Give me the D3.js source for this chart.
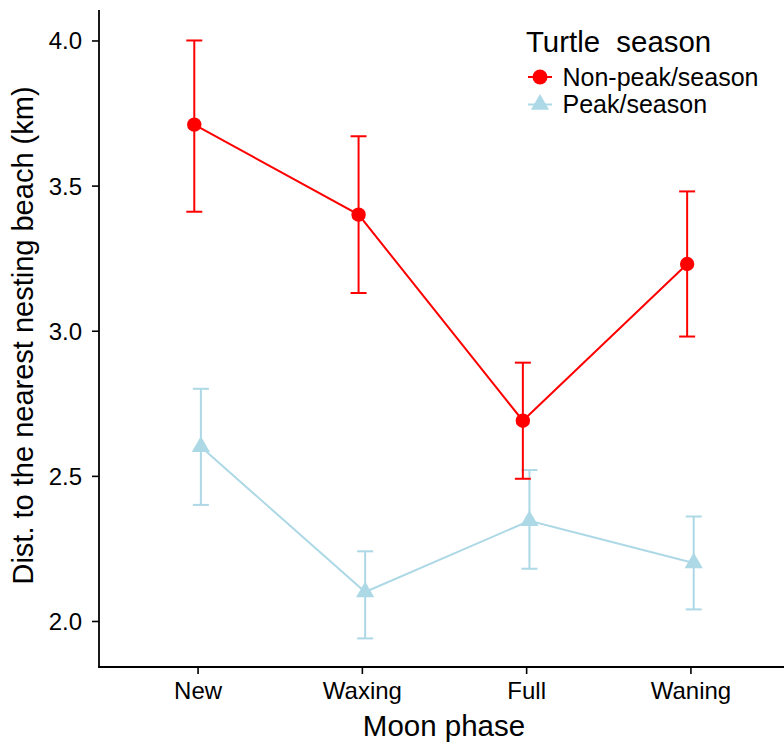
<!DOCTYPE html>
<html>
<head>
<meta charset="utf-8">
<script src="https://cdn.jsdelivr.net/npm/d3@7"></script>
<style>
  html, body { margin: 0; padding: 0; background: #fff; }
  svg { display: block; font-family: "Liberation Sans", Arial, Helvetica, sans-serif; }
</style>
</head>
<body>
<svg id="chart" width="784" height="745"></svg>
<script>
// ---- Data ----
const phases = ["New", "Waxing", "Full", "Waning"];
const nonPeakMean = [3.71, 3.40, 2.69, 3.23];
const nonPeakLow  = [3.41, 3.13, 2.49, 2.98];
const nonPeakHigh = [4.00, 3.67, 2.89, 3.48];
const peakMean = [2.60, 2.10, 2.345, 2.20];
const peakLow  = [2.40, 1.94, 2.18, 2.04];
const peakHigh = [2.80, 2.24, 2.52, 2.36];
const yTicks = [2.0, 2.5, 3.0, 3.5, 4.0];
const seriesNames = ["Non-peak/season", "Peak/season"];
const legendTitle = "Turtle  season";
const xTitle = "Moon phase";
const yTitle = "Dist. to the nearest nesting beach (km)";

// ---- Layout ----
const svg = d3.select("#chart");
const mLeft = 99, mRight = 789, mTop = 10, mBottom = 667;
const RED = "#FF0000", BLUE = "#ADD8E6";

const x = d3.scalePoint().domain(phases).range([mLeft, mRight]).padding(0.6);
const y = d3.scaleLinear().domain([1.8415, 4.105]).range([mBottom, mTop]);
const dodge = x.step() * 0.02;

const series = [
  { name: seriesNames[1], color: BLUE, shape: "tri", off: dodge,
    data: phases.map((p, i) => ({ p, m: peakMean[i], lo: peakLow[i], hi: peakHigh[i] })) },
  { name: seriesNames[0], color: RED, shape: "circle", off: -dodge,
    data: phases.map((p, i) => ({ p, m: nonPeakMean[i], lo: nonPeakLow[i], hi: nonPeakHigh[i] })) }
];

const triR = 10.5;
function triPath(r) {
  const xc = r * Math.sqrt(3) / 2;
  return `M0,${-r}L${xc},${r / 2}L${-xc},${r / 2}Z`;
}

// ---- Axes ----
const yAxis = d3.axisLeft(y).tickValues(yTicks).tickFormat(d3.format(".1f")).tickSize(7).tickPadding(10);
const gy = svg.append("g").attr("transform", `translate(${mLeft},0)`).call(yAxis);
gy.select(".domain").remove();
gy.selectAll(".tick line").attr("stroke", "#000").attr("stroke-width", 1.6);
gy.selectAll(".tick text").attr("font-size", 24).attr("fill", "#000").attr("dy", "0.35em")
  .attr("font-family", "Liberation Sans, Arial, sans-serif");

const xAxis = d3.axisBottom(x).tickSize(7).tickPadding(8);
const gx = svg.append("g").attr("transform", `translate(0,${mBottom})`).call(xAxis);
gx.select(".domain").remove();
gx.selectAll(".tick line").attr("stroke", "#000").attr("stroke-width", 1.6);
gx.selectAll(".tick text").attr("font-size", 24).attr("fill", "#000").attr("dy", "0.69em")
  .attr("font-family", "Liberation Sans, Arial, sans-serif");

svg.append("line").attr("x1", mLeft).attr("x2", mLeft).attr("y1", mTop).attr("y2", mBottom + 0.8)
  .attr("stroke", "#000").attr("stroke-width", 1.8);
svg.append("line").attr("x1", mLeft - 0.8).attr("x2", 784).attr("y1", mBottom).attr("y2", mBottom)
  .attr("stroke", "#000").attr("stroke-width", 1.8);

// axis titles
svg.append("text").attr("x", (mLeft + mRight) / 2).attr("y", 736).attr("text-anchor", "middle")
  .attr("font-size", 29.5).attr("fill", "#000").text(xTitle);
svg.append("text").attr("transform", `translate(33,${(mTop + mBottom) / 2 - 3}) rotate(-90)`)
  .attr("text-anchor", "middle").attr("font-size", 29).attr("fill", "#000").text(yTitle);

// ---- Marks ----
const capW = 8;
const plot = svg.append("g");
// error bars
series.forEach(s => {
  const g = plot.append("g");
  s.data.forEach(d => {
    const cx = x(d.p) + s.off;
    g.append("line").attr("x1", cx).attr("x2", cx).attr("y1", y(d.lo)).attr("y2", y(d.hi))
      .attr("stroke", s.color).attr("stroke-width", 2);
    [d.lo, d.hi].forEach(v => {
      g.append("line").attr("x1", cx - capW).attr("x2", cx + capW).attr("y1", y(v)).attr("y2", y(v))
        .attr("stroke", s.color).attr("stroke-width", 2);
    });
  });
});
// lines
const line = d3.line();
series.forEach(s => {
  plot.append("path")
    .attr("d", line(s.data.map(d => [x(d.p) + s.off, y(d.m)])))
    .attr("fill", "none").attr("stroke", s.color).attr("stroke-width", 2);
});
// points
series.forEach(s => {
  s.data.forEach(d => {
    const cx = x(d.p) + s.off, cy = y(d.m);
    if (s.shape === "circle") {
      plot.append("circle").attr("cx", cx).attr("cy", cy).attr("r", 7.2).attr("fill", s.color);
    } else {
      plot.append("path").attr("d", triPath(triR)).attr("transform", `translate(${cx},${cy})`).attr("fill", s.color);
    }
  });
});

// ---- Legend ----
const lg = svg.append("g");
lg.append("text").attr("x", 526).attr("y", 51.5).attr("font-size", 29.4).attr("fill", "#000")
  .style("white-space", "pre").attr("xml:space", "preserve").text(legendTitle);
const legendItems = [series[1], series[0]];
legendItems.forEach((s, i) => {
  const cy = i === 0 ? 77 : 104.5;
  lg.append("line").attr("x1", 528).attr("x2", 552).attr("y1", cy).attr("y2", cy)
    .attr("stroke", s.color).attr("stroke-width", 2);
  if (s.shape === "circle") {
    lg.append("circle").attr("cx", 540).attr("cy", cy).attr("r", 7.5).attr("fill", s.color);
  } else {
    lg.append("path").attr("d", triPath(triR)).attr("transform", `translate(540,${cy})`).attr("fill", s.color);
  }
  lg.append("text").attr("x", 562.5).attr("y", cy + 8.5).attr("font-size", 25).attr("fill", "#000").text(s.name);
});
</script>
</body>
</html>
